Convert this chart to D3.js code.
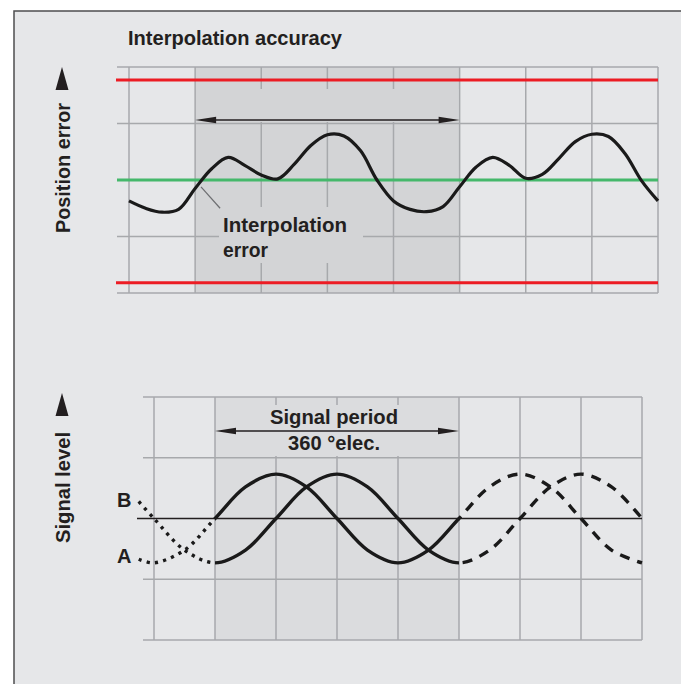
<!DOCTYPE html>
<html>
<head>
<meta charset="utf-8">
<script src="https://cdn.jsdelivr.net/npm/d3@7/dist/d3.min.js"></script>
<style>
  body { margin: 0; background: #fff; }
  svg { display: block; }
  text { font-family: "Liberation Sans Narrow", "Arial Narrow", "Liberation Sans", Arial, sans-serif; font-weight: bold; fill: #231f20; }
</style>
</head>
<body>
<svg width="681" height="684"></svg>
<script>
// phase axis in electrical degrees, one grid column = 90 deg
var phaseTicks = [-90, 0, 90, 180, 270, 360, 450, 540, 630];
var levelTicks = [-2, -1, 0, 1, 2];
var shadedRange = [0, 360];

// interpolation error, every 22.5 deg
var errPhase = [-90, -67.5, -45, -22.5, 0, 22.5, 45, 67.5, 90, 112.5, 135, 157.5, 180,
                202.5, 225, 247.5, 270, 292.5, 315, 337.5, 360, 382.5, 405, 427.5, 450,
                472.5, 495, 517.5, 540, 562.5, 585, 607.5, 630];
var errValue = [-0.37, -0.50, -0.57, -0.52, -0.15, 0.20, 0.40, 0.26, 0.09, 0.02, 0.28, 0.61, 0.80,
                0.78, 0.52, 0.00, -0.37, -0.52, -0.56, -0.47, -0.12, 0.23, 0.40, 0.26, 0.03,
                0.10, 0.38, 0.68, 0.81, 0.77, 0.47, -0.01, -0.37];
var errLimits = [1.77, -1.82];

// incremental signals A and B
var sigPhase = [-112.5, -90, -45, 0, 45, 90, 135, 180, 225, 270, 315, 360, 405, 450, 495, 540, 585, 630];
var sigA = [-0.67, -0.73, -0.52, 0, 0.52, 0.73, 0.52, 0, -0.52, -0.73, -0.52, 0, 0.52, 0.73, 0.52, 0, -0.52, -0.73];
var sigB = [0.28, 0, -0.52, -0.73, -0.52, 0, 0.52, 0.73, 0.52, 0, -0.52, -0.73, -0.52, 0, 0.52, 0.73, 0.52, 0];

var svg = d3.select("svg");
var gridColor = "#a7a9ac";

// page frame
svg.append("rect").attr("x", 14).attr("y", 11).attr("width", 680).attr("height", 680)
  .attr("fill", "#e6e7e9").attr("stroke", "#4d4d4f").attr("stroke-width", 1.5);

// ---------- top chart: interpolation accuracy ----------
var x1 = d3.scaleLinear().domain([-90, 630]).range([129, 658]);
var y1 = d3.scaleLinear().domain([-2, 2]).range([293, 67]);
var topG = svg.append("g");

topG.append("rect")
  .attr("x", x1(shadedRange[0])).attr("y", y1(2))
  .attr("width", x1(shadedRange[1]) - x1(shadedRange[0])).attr("height", y1(-2) - y1(2))
  .attr("fill", "#d3d4d6");

topG.selectAll("line.v").data(phaseTicks).enter().append("line")
  .attr("x1", d => x1(d)).attr("x2", d => x1(d))
  .attr("y1", y1(2)).attr("y2", y1(-2))
  .attr("stroke", gridColor).attr("stroke-width", 1.5);
topG.selectAll("line.h").data(levelTicks).enter().append("line")
  .attr("x1", 117).attr("x2", x1(630))
  .attr("y1", d => y1(d)).attr("y2", d => y1(d))
  .attr("stroke", gridColor).attr("stroke-width", 1.5);

// band behind the period arrow hides the grid
topG.append("rect")
  .attr("x", x1(shadedRange[0]) + 1).attr("y", 89)
  .attr("width", x1(shadedRange[1]) - x1(shadedRange[0]) - 2).attr("height", 33)
  .attr("fill", "#d3d4d6");

// limits and zero line
topG.selectAll("line.lim").data(errLimits).enter().append("line")
  .attr("x1", 116).attr("x2", x1(630))
  .attr("y1", d => y1(d)).attr("y2", d => y1(d))
  .attr("stroke", "#ec1c24").attr("stroke-width", 3);
topG.append("line")
  .attr("x1", 117).attr("x2", x1(630)).attr("y1", y1(0)).attr("y2", y1(0))
  .attr("stroke", "#45b86b").attr("stroke-width", 3);

// label box for "Interpolation error"
topG.append("rect").attr("x", 219).attr("y", 207).attr("width", 144).attr("height", 56)
  .attr("fill", "#d3d4d6");
topG.append("line")
  .attr("x1", x1(8)).attr("y1", y1(-0.12)).attr("x2", x1(34)).attr("y2", y1(-0.5))
  .attr("stroke", "#6d6e71").attr("stroke-width", 1.2);

var errLine = d3.line()
  .x((d, i) => x1(errPhase[i]))
  .y(d => y1(d))
  .curve(d3.curveCatmullRom.alpha(0.5));
topG.append("path").datum(errValue)
  .attr("d", errLine)
  .attr("fill", "none").attr("stroke", "#1a1a1a").attr("stroke-width", 3.2);

// double arrow, 360 deg
function arrow(g, xa, xb, y) {
  g.append("line").attr("x1", xa + 10).attr("x2", xb - 10).attr("y1", y).attr("y2", y)
    .attr("stroke", "#231f20").attr("stroke-width", 1.5);
  g.append("path").attr("d", "M" + xa + "," + y + "L" + (xa + 21) + "," + (y - 3.2) + "L" + (xa + 21) + "," + (y + 3.2) + "Z")
    .attr("fill", "#231f20");
  g.append("path").attr("d", "M" + xb + "," + y + "L" + (xb - 21) + "," + (y - 3.2) + "L" + (xb - 21) + "," + (y + 3.2) + "Z")
    .attr("fill", "#231f20");
}
arrow(topG, x1(shadedRange[0]), x1(shadedRange[1]), 120);

topG.append("text").attr("x", 223).attr("y", 232).attr("font-size", 20)
  .attr("textLength", 124).attr("lengthAdjust", "spacingAndGlyphs").text("Interpolation");
topG.append("text").attr("x", 223).attr("y", 257).attr("font-size", 20)
  .attr("textLength", 45).attr("lengthAdjust", "spacingAndGlyphs").text("error");

svg.append("text").attr("x", 128).attr("y", 45).attr("font-size", 19.5)
  .attr("textLength", 214).attr("lengthAdjust", "spacingAndGlyphs").text("Interpolation accuracy");

// y label with arrowhead
function yLabel(txt, yBottom, len, yArrow) {
  svg.append("text").attr("transform", "translate(70," + yBottom + ") rotate(-90)")
    .attr("font-size", 20).attr("textLength", len).attr("lengthAdjust", "spacingAndGlyphs").text(txt);
  svg.append("path").attr("d", "M62," + yArrow + "L55.5," + (yArrow + 23) + "L68.5," + (yArrow + 23) + "Z")
    .attr("fill", "#231f20");
}
yLabel("Position error", 233, 130, 67);
yLabel("Signal level", 543, 111, 393);

// ---------- bottom chart: signal level ----------
var x2 = d3.scaleLinear().domain([-90, 630]).range([154, 642]);
var y2 = d3.scaleLinear().domain([-2, 2]).range([640, 397]);
var botG = svg.append("g");

botG.append("rect")
  .attr("x", x2(shadedRange[0])).attr("y", y2(2))
  .attr("width", x2(shadedRange[1]) - x2(shadedRange[0])).attr("height", y2(-2) - y2(2))
  .attr("fill", "#dbdcde");

botG.selectAll("line.v").data(phaseTicks).enter().append("line")
  .attr("x1", d => x2(d)).attr("x2", d => x2(d))
  .attr("y1", y2(2)).attr("y2", y2(-2))
  .attr("stroke", gridColor).attr("stroke-width", 1.5);
botG.selectAll("line.h").data(levelTicks.filter(d => d !== 0)).enter().append("line")
  .attr("x1", 143).attr("x2", x2(630))
  .attr("y1", d => y2(d)).attr("y2", d => y2(d))
  .attr("stroke", gridColor).attr("stroke-width", 1.5);

botG.append("rect")
  .attr("x", x2(shadedRange[0]) + 1).attr("y", 405)
  .attr("width", x2(shadedRange[1]) - x2(shadedRange[0]) - 2).attr("height", 51)
  .attr("fill", "#dbdcde");

botG.append("line")
  .attr("x1", 137).attr("x2", x2(630)).attr("y1", y2(0)).attr("y2", y2(0))
  .attr("stroke", "#231f20").attr("stroke-width", 1.5);

// clip regions: dotted before, solid within, dashed after the period
var parts = [
  { id: "cDot", x0: 120, x1: x2(0), dash: "3.2,5.2" },
  { id: "cSolid", x0: x2(0), x1: x2(360), dash: null },
  { id: "cDash", x0: x2(360), x1: 660, dash: "10,8" }
];
var defs = svg.append("defs");
parts.forEach(function (p) {
  defs.append("clipPath").attr("id", p.id).append("rect")
    .attr("x", p.x0).attr("y", 380).attr("width", p.x1 - p.x0).attr("height", 280);
});

var sigLine = d3.line()
  .x((d, i) => x2(sigPhase[i]))
  .y(d => y2(d))
  .curve(d3.curveCatmullRom.alpha(0.5));
[sigA, sigB].forEach(function (s) {
  parts.forEach(function (p) {
    botG.append("path").datum(s)
      .attr("d", sigLine)
      .attr("clip-path", "url(#" + p.id + ")")
      .attr("fill", "none").attr("stroke", "#1a1a1a").attr("stroke-width", 3.4)
      .attr("stroke-dasharray", p.dash);
  });
});

arrow(botG, x2(shadedRange[0]), x2(shadedRange[1]), 431);
botG.append("text").attr("x", 334).attr("y", 424).attr("font-size", 20).attr("text-anchor", "middle")
  .attr("textLength", 128).attr("lengthAdjust", "spacingAndGlyphs").text("Signal period");
botG.append("text").attr("x", 334).attr("y", 450).attr("font-size", 20).attr("text-anchor", "middle")
  .attr("textLength", 92).attr("lengthAdjust", "spacingAndGlyphs").text("360 °elec.");

botG.append("text").attr("x", 117).attr("y", 507).attr("font-size", 20).text("B");
botG.append("text").attr("x", 117).attr("y", 563).attr("font-size", 20).text("A");
</script>
</body>
</html>
